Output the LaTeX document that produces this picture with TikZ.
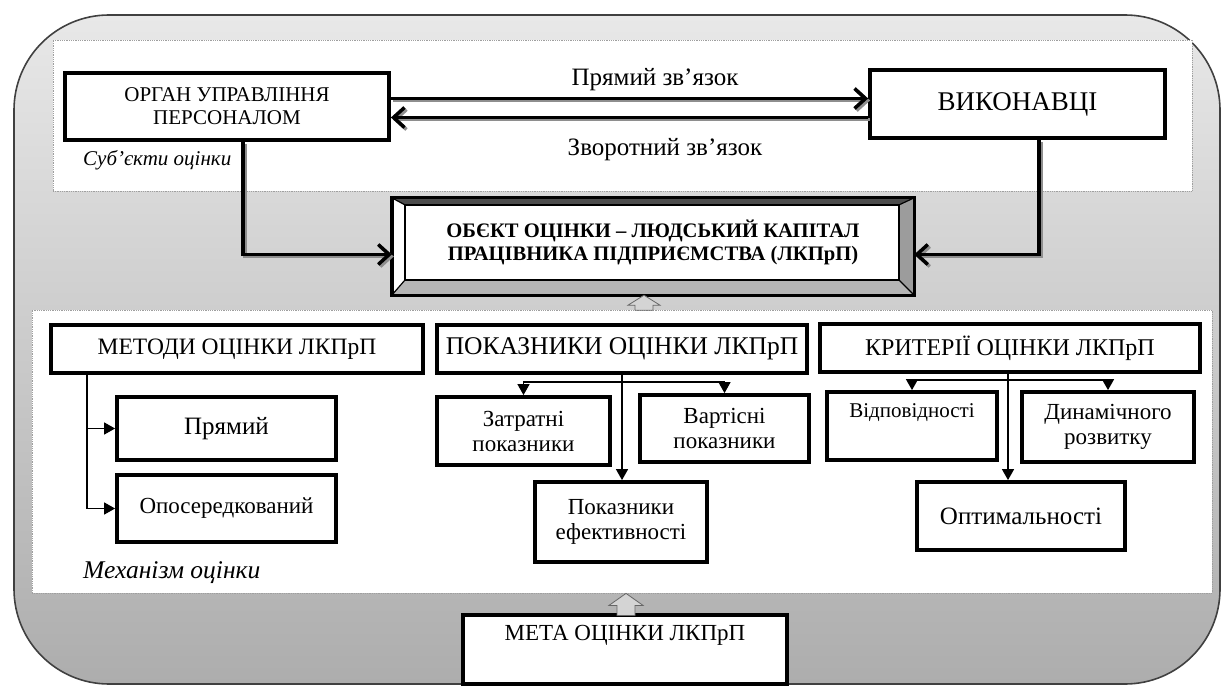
\documentclass[tikz,border=0pt]{standalone}
\usepackage{fontspec}
\setmainfont{Liberation Serif}
\usepackage{tikz}
\usetikzlibrary{arrows.meta,calc}
\definecolor{framelight}{HTML}{E8E8E8}
\definecolor{framedark}{HTML}{ADADAD}
\definecolor{shadowgray}{HTML}{8E8E8E}
\definecolor{bevelgray}{HTML}{9C9C9C}
\definecolor{hollowfill}{HTML}{D4D4D4}

\begin{document}
\begin{tikzpicture}[x=1pt,y=-1pt,
 frame/.style={draw=black!75,line width=1.6pt,rounded corners=95pt,top color=framelight,bottom color=framedark},
 panel/.style={draw=gray!75,densely dotted,line width=0.8pt,fill=white,inner sep=0pt},
 box/.style={draw=black,line width=3.8pt,fill=white,align=center,inner sep=0pt,font=\fontsize{23}{25}\selectfont},
 lbl/.style={inner sep=0pt,font=\fontsize{25}{28}\selectfont},
 note/.style={inner sep=0pt,anchor=west,font=\itshape\fontsize{21}{24}\selectfont},
 bigarr/.style={line width=3.5pt,-{Straight Barb[length=11pt,width=20pt]},
   preaction={draw=shadowgray,line width=3.5pt,transform canvas={shift={(2pt,-2pt)}}}},
 thinarr/.style={line width=1.4pt,-{Triangle[length=11pt,width=12pt]}},
 hollow/.style={draw=gray!80!black,line width=0.8pt,fill=hollowfill}
]
\useasboundingbox (0,0) rectangle (1223,687);
\draw[frame] (14,15) rectangle (1220,684);

\node[panel,minimum width=1139pt,minimum height=151pt] (toppanel) at (622.5,115.5) {};
\node[panel,minimum width=1180pt,minimum height=283pt] (lowpanel) at (622,451.5) {};

% subjects
\node[box,minimum width=324pt,minimum height=67pt,font=\fontsize{21}{23}\selectfont] (org) at (227,106.5) {ОРГАН УПРАВЛІННЯ\\ПЕРСОНАЛОМ};
\node[box,minimum width=295pt,minimum height=68pt,font=\fontsize{27}{30}\selectfont] (vyk) at (1017.5,104) {ВИКОНАВЦІ};
\node[lbl] (pryamlbl) at (655,80) {Прямий зв’язок};
\node[lbl] (zvorlbl) at (665,150) {Зворотний зв’язок};
\node[note] (subj) at (83,160) {Суб’єкти оцінки};

\draw[bigarr] ([yshift=8pt]org.east) -- ([yshift=8pt]org.east -| vyk.west);
\draw[bigarr] ([yshift=-11pt]org.east -| vyk.west) -- ([yshift=-11pt]org.east);

% object with bevel
\node[minimum width=522pt,minimum height=97pt,inner sep=0pt] (obj) at (653,246.5) {};
\coordinate (oin1) at ($(obj.north west)+(13,7)$);
\coordinate (oin2) at ($(obj.north east)+(-15,7)$);
\coordinate (oin3) at ($(obj.south east)+(-15,-15)$);
\coordinate (oin4) at ($(obj.south west)+(13,-15)$);
\fill[white] (obj.north west) rectangle (obj.south east);
\fill[black!70] (obj.north west) -- (obj.north east) -- (oin2) -- (oin1) -- cycle;
\fill[bevelgray] (obj.north east) -- (obj.south east) -- (oin3) -- (oin2) -- cycle;
\fill[bevelgray!75] (obj.south west) -- (obj.south east) -- (oin3) -- (oin4) -- cycle;
\draw[line width=1.2pt] (obj.north west) -- (oin1) (obj.north east) -- (oin2)
  (obj.south east) -- (oin3) (obj.south west) -- (oin4);
\draw[line width=2pt] (oin1) rectangle (oin3);
\draw[line width=3.4pt] (obj.north west) rectangle (obj.south east);
\node[align=center,inner sep=0pt,font=\bfseries\fontsize{20.6}{23}\selectfont] (objtxt) at ([yshift=4pt]obj.center)
  {ОБЄКТ ОЦІНКИ – ЛЮДСЬКИЙ КАПІТАЛ\\ПРАЦІВНИКА ПІДПРИЄМСТВА (ЛКПрП)};

\draw[bigarr] ([xshift=16pt]org.south) |- ([yshift=-8pt]obj.west);
\draw[bigarr] ([xshift=21.5pt]vyk.south) |- ([yshift=-8pt]obj.east);

\coordinate (uptip1) at ([xshift=-9pt]obj.south);
\draw[hollow] (uptip1) -- ++(16,10) -- ++(-7,0) -- ++(0,5) -- ++(-18,0) -- ++(0,-5) -- ++(-7,0) -- cycle;

% mechanism
\node[box,minimum width=372pt,minimum height=48pt,font=\fontsize{23.5}{26}\selectfont] (metody) at (237,349) {МЕТОДИ ОЦІНКИ ЛКПрП};
\node[box,minimum width=370pt,minimum height=48pt,font=\fontsize{25.5}{28}\selectfont] (pokaz) at (622,349) {ПОКАЗНИКИ ОЦІНКИ ЛКПрП};
\node[box,minimum width=380pt,minimum height=48pt,font=\fontsize{24}{26}\selectfont] (kryt) at (1010,348) {КРИТЕРІЇ ОЦІНКИ ЛКПрП};

\node[box,minimum width=219pt,minimum height=63pt,font=\fontsize{25}{28}\selectfont] (pryam) at (226.5,428.5) {Прямий};
\node[box,minimum width=219pt,minimum height=67pt] (oposer) at (226.5,508.5) {Опосередкований};

\node[box,minimum width=173pt,minimum height=68pt] (zatr) at (523.5,431) {Затратні\\показники};
\node[box,minimum width=169pt,minimum height=67pt] (vart) at (724.5,428.5) {Вартісні\\показники};
\node[box,minimum width=172pt,minimum height=80pt] (efekt) at (621,522) {Показники\\ефективності};

\node[box,minimum width=170pt,minimum height=68pt,font=\fontsize{21}{24}\selectfont] (vidp) at (912,426) {Відповідності\\\strut};
\node[box,minimum width=172pt,minimum height=70pt] (dynam) at (1108,427) {Динамічного\\розвитку};
\node[box,minimum width=208pt,minimum height=68pt,font=\fontsize{25}{28}\selectfont] (optym) at (1021,516) {Оптимальності};

\node[note,font=\itshape\fontsize{25.5}{28}\selectfont] (mech) at (83,573) {Механізм оцінки};

\draw[thinarr] ([xshift=-150pt]metody.south) |- (pryam.west);
\draw[thinarr] ([xshift=-150pt]metody.south) |- (oposer.west);

\draw[thinarr] (pokaz.south) -- (pokaz.south |- efekt.north);
\coordinate (pkfork) at ([yshift=-7pt]pokaz.south);
\draw[thinarr] (pkfork) -| (zatr.north);
\draw[thinarr] (pkfork) -| (vart.north);

\draw[thinarr] ([xshift=-2pt]kryt.south) -- ([xshift=-2pt]kryt.south |- optym.north);
\coordinate (krfork) at ([yshift=-6pt]kryt.south);
\draw[thinarr] (krfork) -| (vidp.north);
\draw[thinarr] (krfork) -| (dynam.north);

% goal
\node[box,minimum width=324pt,minimum height=69pt] (meta) at (625,649.5) {МЕТА ОЦІНКИ ЛКПрП\\\strut};
\coordinate (uptip2) at ([xshift=1pt]meta.north |- lowpanel.south);
\draw[hollow] (uptip2) -- ++(17,12) -- ++(-8,0) -- ++(0,10) -- ++(-18,0) -- ++(0,-10) -- ++(-8,0) -- cycle;
\end{tikzpicture}
\end{document}
